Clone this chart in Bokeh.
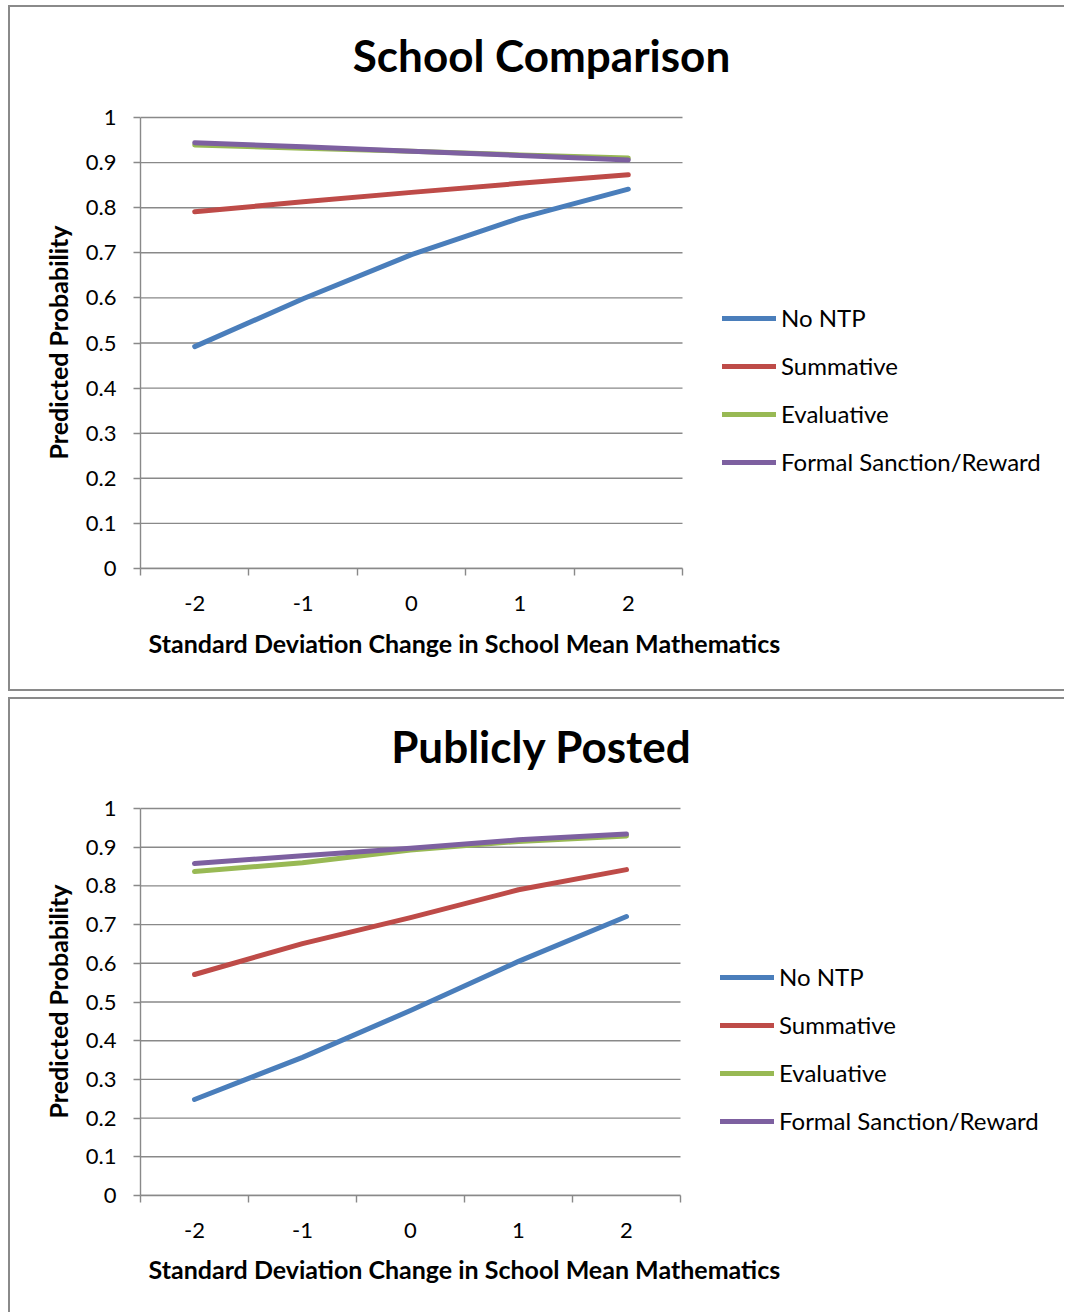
from bokeh.plotting import figure
from bokeh.layouts import column
from bokeh.models import (FixedTicker, CustomJSTickFormatter, Legend, LegendItem, Title, Label)
from bokeh.embed import file_html
from bokeh.resources import INLINE

sd_change = [-2, -1, 0, 1, 2]
x_tick_labels = ["-2", "-1", "0", "1", "2"]
y_ticks = [0, 0.1, 0.2, 0.3, 0.4, 0.5, 0.6, 0.7, 0.8, 0.9, 1.0]
series_names = ["No NTP", "Summative", "Evaluative", "Formal Sanction/Reward"]

school_no_ntp = [0.492, 0.598, 0.696, 0.777, 0.841]
school_summative = [0.791, 0.813, 0.834, 0.854, 0.873]
school_evaluative = [0.939, 0.932, 0.925, 0.917, 0.910]
school_formal = [0.944, 0.935, 0.925, 0.916, 0.906]

posted_no_ntp = [0.248, 0.357, 0.478, 0.605, 0.721]
posted_summative = [0.571, 0.651, 0.718, 0.790, 0.842]
posted_evaluative = [0.837, 0.860, 0.893, 0.915, 0.929]
posted_formal = [0.858, 0.878, 0.897, 0.919, 0.934]

COLORS = ["#4A7EBB", "#BE4B48", "#98B954", "#7D60A0"]
GRID = "#898989"
FONT = "Lato"
FIG_W = 1056
LEFT = 130


def make_chart(title, series, height, bottom, plot_w, plot_h, top_px,
               legend_xy, title_dx, title_dy, ylabel_offset, xlabel_offset,
               xlabel_standoff, margin, box_style):
    x0 = sd_change[0] - 0.5
    x1 = sd_change[-1] + 0.5
    ppx = plot_w / (x1 - x0)          # pixels per x unit
    ppy = plot_h / (y_ticks[-1] - y_ticks[0])  # pixels per y unit
    x_end = x0 + (FIG_W - LEFT) / ppx
    y_end = y_ticks[-1] + top_px / ppy
    p = figure(width=FIG_W, height=height, output_backend="svg",
               toolbar_location=None, x_range=(x0, x_end), y_range=(0, y_end),
               min_border_left=LEFT, min_border_right=0,
               min_border_top=0, min_border_bottom=bottom,
               outline_line_color=None)
    p.margin = margin
    p.styles = box_style
    p.xgrid.grid_line_color = None
    p.ygrid.grid_line_color = None

    # horizontal gridlines limited to the plot area
    p.segment(x0=[x0] * len(y_ticks), x1=[x1] * len(y_ticks), y0=y_ticks,
              y1=y_ticks, line_color=GRID, line_width=1.4)

    # x axis
    xa = p.xaxis[0]
    xa.bounds = (x0, x1)
    xa.ticker = FixedTicker(ticks=sd_change,
                            minor_ticks=[v - 0.5 for v in sd_change] + [x1])
    xa.major_label_overrides = {v: s for v, s in zip(sd_change, x_tick_labels)}
    xa.major_tick_line_color = None
    xa.major_tick_out = 7
    xa.major_tick_in = 0
    xa.minor_tick_out = 7
    xa.minor_tick_in = 0
    xa.minor_tick_line_color = GRID
    xa.minor_tick_line_width = 1.4
    xa.axis_line_color = GRID
    xa.axis_line_width = 1.4
    xa.major_label_standoff = 20
    xa.major_label_text_font = FONT
    xa.major_label_text_font_size = "22px"
    xa.major_label_text_color = "#000000"

    # y axis
    ya = p.yaxis[0]
    ya.bounds = (y_ticks[0], y_ticks[-1])
    ya.ticker = FixedTicker(ticks=y_ticks)
    ya.formatter = CustomJSTickFormatter(code="return String(Math.round(tick*10)/10)")
    ya.minor_tick_line_color = None
    ya.major_tick_out = 7
    ya.major_tick_in = 0
    ya.major_tick_line_color = GRID
    ya.major_tick_line_width = 1.4
    ya.axis_line_color = GRID
    ya.axis_line_width = 1.4
    ya.major_label_standoff = 17
    ya.major_label_text_font = FONT
    ya.major_label_text_font_size = "22px"
    ya.major_label_text_color = "#000000"

    items = []
    for name, ys, c in zip(series_names, series, COLORS):
        r = p.line(sd_change, ys, line_color=c, line_width=5, line_cap="round",
                   line_join="round")
        items.append(LegendItem(label=name, renderers=[r]))

    leg = Legend(items=items, location=legend_xy, padding=0, margin=0,
                 spacing=19, glyph_width=54, glyph_height=22, label_height=22,
                 label_standoff=5, border_line_color=None,
                 background_fill_alpha=0, label_text_font=FONT,
                 label_text_font_size="24px", label_text_color="#000000")
    p.add_layout(leg, "center")

    # chart title, centred over the whole chart box
    p.add_layout(Label(x=x0 + title_dx / ppx, y=y_ticks[-1] + title_dy / ppy,
                       text=title, text_font=FONT, text_font_size="44px",
                       text_font_style="bold", text_color="#000000",
                       text_align="center", text_baseline="middle"))
    # y-axis title, beside the tick labels
    p.add_layout(Title(text="Predicted Probability", align="left",
                       offset=ylabel_offset, text_font=FONT,
                       text_font_size="25px", text_font_style="bold",
                       text_color="#000000", standoff=20), "left")
    p.add_layout(Title(text="Standard Deviation Change in School Mean Mathematics",
                       align="left", offset=xlabel_offset, text_font=FONT,
                       text_font_size="25px", text_font_style="bold",
                       text_color="#000000", standoff=xlabel_standoff), "below")
    return p


p1 = make_chart("School Comparison",
                [school_no_ntp, school_summative, school_evaluative, school_formal],
                height=686, bottom=125, plot_w=542, plot_h=451, top_px=110,
                legend_xy=(582, 92), title_dx=401, title_dy=63,
                ylabel_offset=109, xlabel_offset=8, xlabel_standoff=24,
                margin=(5, 0, 0, 8),
                box_style={"border": "2px solid #8a8a8a", "border-right": "none"})
p2 = make_chart("Publicly Posted",
                [posted_no_ntp, posted_summative, posted_evaluative, posted_formal],
                height=615, bottom=119, plot_w=540, plot_h=387, top_px=109,
                legend_xy=(580, 60), title_dx=401, title_dy=63,
                ylabel_offset=77, xlabel_offset=8, xlabel_standoff=22,
                margin=(6, 0, 0, 8),
                box_style={"border": "2px solid #8a8a8a", "border-right": "none",
                           "border-bottom": "none"})

layout = column(p1, p2, spacing=0)
open("out.html", "w").write(file_html(layout, INLINE))
